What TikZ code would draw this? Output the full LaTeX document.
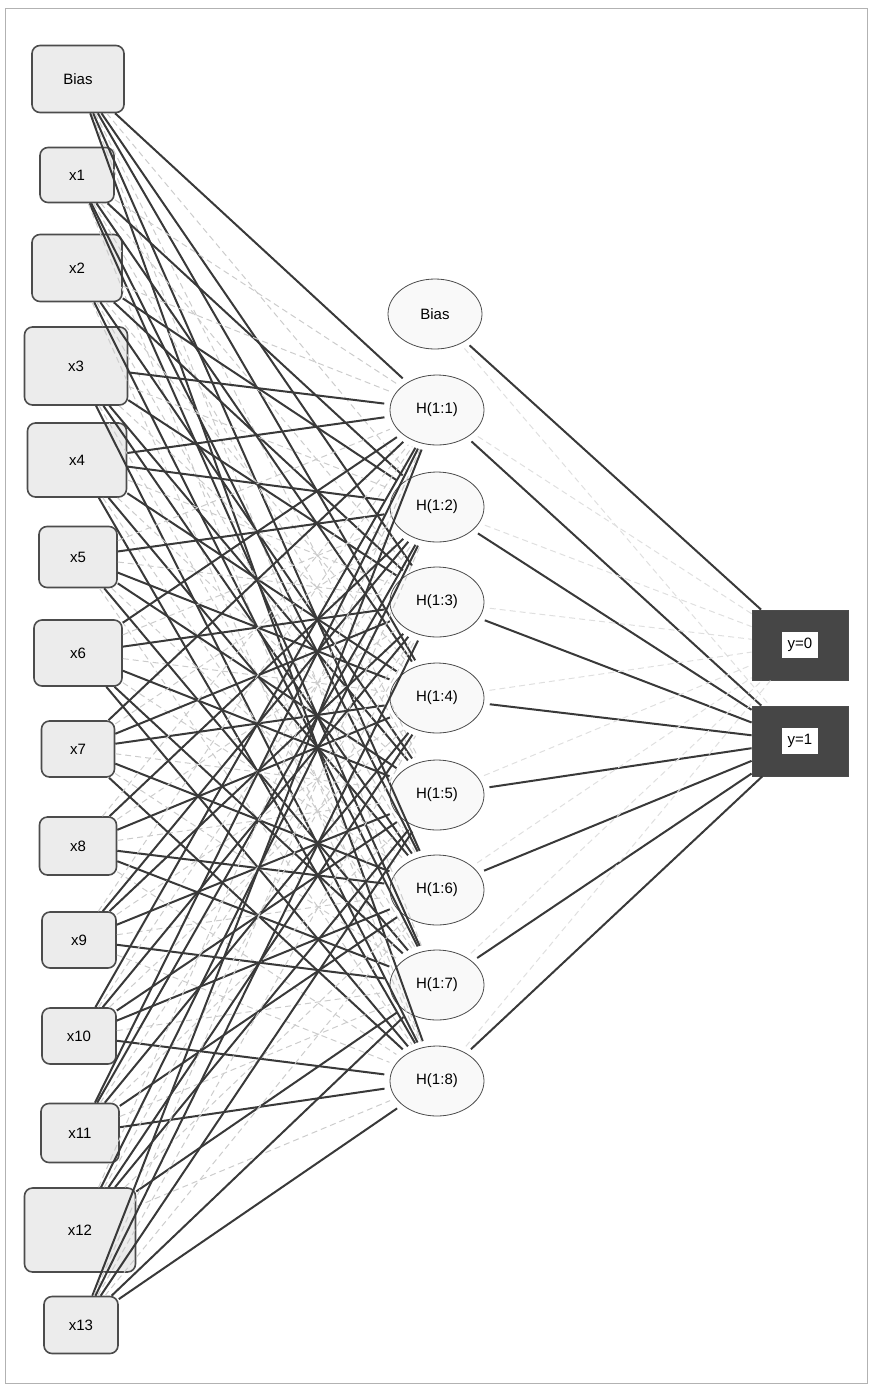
\documentclass[tikz,border=0pt]{standalone}
\usepackage{fontspec}
\setmainfont{Liberation Sans}
\usetikzlibrary{shapes.geometric}
\tikzset{
  inbox/.style 2 args={draw=gray!60!black, fill=gray!15, rounded corners=4pt, thick,
    minimum width=#1*0.5pt, minimum height=#2*0.5pt, inner sep=0pt},
  hid/.style={ellipse, draw=gray!60!black, fill=gray!5, minimum width=47pt,
    minimum height=35pt, inner sep=0pt},
  outbox/.style={draw=gray!60!black, fill=gray!55!black, minimum width=48pt,
    minimum height=35pt, inner sep=0pt},
  strong/.style={draw=gray!45!black, line width=1pt},
  weak/.style={draw=gray!40, line width=0.5pt, densely dashed},
}
\begin{document}
\begin{tikzpicture}[x=0.5pt, y=-0.5pt, font=\fontsize{7.5}{9}\selectfont]
\useasboundingbox (0,0) rectangle (873,1388);
\draw[gray!60] (5,8) rectangle (867,1383);
\node[inbox={92}{67}] (bias) at (78,79) {Bias};
\node[inbox={74}{55}] (x1) at (77,175) {x1};
\node[inbox={90}{67}] (x2) at (77,268) {x2};
\node[inbox={103}{78}] (x3) at (76,366) {x3};
\node[inbox={99}{74}] (x4) at (77,460) {x4};
\node[inbox={78}{61}] (x5) at (78,557) {x5};
\node[inbox={88}{66}] (x6) at (78,653) {x6};
\node[inbox={73}{56}] (x7) at (78,749) {x7};
\node[inbox={77}{58}] (x8) at (78,846) {x8};
\node[inbox={74}{56}] (x9) at (79,940) {x9};
\node[inbox={74}{56}] (x10) at (79,1036) {x10};
\node[inbox={78}{59}] (x11) at (80,1133) {x11};
\node[inbox={111}{84}] (x12) at (80,1230) {x12};
\node[inbox={74}{57}] (x13) at (81,1325) {x13};
\node[hid] (hB) at (435,314) {Bias};
\foreach \j/\y in {1/410,2/507,3/602,4/698,5/795,6/890,7/985,8/1081}
  \node[hid] (h\j) at (437,\y) {H(1:\j)};
\node[outbox] (y0) at (800,645) {\colorbox{white}{y=0}};
\node[outbox] (y1) at (800,741) {\colorbox{white}{y=1}};
\foreach \n [count=\k] in {bias,x1,x2,x3,x4,x5,x6,x7,x8,x9,x10,x11,x12,x13}
  \foreach \j in {1,...,8} {
    \pgfmathtruncatemacro\w{mod(\k*5+\j*3,7)}
    \ifnum\w<4 \def\sty{strong}\else\def\sty{weak}\fi
    \draw[\sty, shorten >=3pt] (\n) -- (h\j);
  }
\draw[weak, gray!25, shorten <=3pt] (hB) -- (y1);
\draw[strong, shorten <=3pt] (hB) -- (y0);
\foreach \j in {1,...,8} {
  \draw[weak, gray!25, shorten <=3pt] (h\j) -- (y0);
  \draw[strong, shorten <=3pt] (h\j) -- (y1);
}
\end{tikzpicture}
\end{document}
